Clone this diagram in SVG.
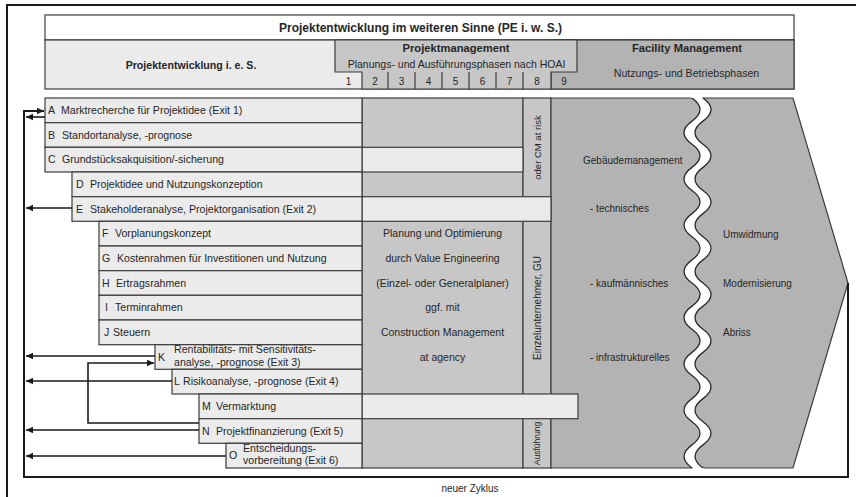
<svg xmlns="http://www.w3.org/2000/svg" width="856" height="497" viewBox="0 0 856 497">
<style>
text{font-family:"Liberation Sans",Arial,sans-serif;font-size:10.6px;fill:#262626}
.b{font-weight:bold}
.m{text-anchor:middle}
.h{font-size:11.2px}
.s{font-size:10.5px}
.f{font-size:10px}
.lt{fill:#ebebeb;stroke:#3c3c3c;stroke-width:1.2}
.pm{fill:#c7c7c7;stroke:#3c3c3c;stroke-width:1.2}
.fm{fill:#b3b3b3;stroke:#3c3c3c;stroke-width:1.2}
.ln{fill:none;stroke:#3c3c3c;stroke-width:1.2}
.ar{fill:none;stroke:#1a1a1a;stroke-width:1.6;marker-end:url(#ah)}
.loop{fill:none;stroke:#1a1a1a;stroke-width:2;marker-end:url(#ah)}
</style>
<defs>
<marker id="ah" markerWidth="8" markerHeight="8" refX="7" refY="4" orient="auto" markerUnits="userSpaceOnUse"><path d="M0,0.8 L7,4 L0,7.2 Z" fill="#1a1a1a"/></marker>
<clipPath id="cw"><rect x="600" y="97" width="200" height="372"/></clipPath>
<clipPath id="cl"><rect x="600" y="98" width="200" height="370"/></clipPath>
<path id="wave" d="M692,74.88 Q676,86.44 692,98 T692,121.13 T692,144.25 T692,167.38 T692,190.5 T692,213.63 T692,236.75 T692,259.88 T692,283 T692,306.13 T692,329.25 T692,352.38 T692,375.5 T692,398.63 T692,421.75 T692,444.88 T692,468 T692,491.13"/>
</defs>
<rect width="856" height="497" fill="#ffffff"/>
<path d="M7,497 V5 H856" fill="none" stroke="#1a1a1a" stroke-width="2"/>

<g id="header">
<rect x="45" y="15" width="749" height="25" fill="#ffffff" stroke="#3c3c3c" stroke-width="1.2"/>
<text class="b m" x="420.5" y="32" style="font-size:12px">Projektentwicklung im weiteren Sinne (PE i. w. S.)</text>
<rect x="45" y="40" width="749" height="49" fill="#ebebeb" stroke="#3c3c3c" stroke-width="1.2"/>
<rect x="551" y="40" width="243" height="49" class="fm"/>
<path d="M335,40 H577 V72 H551 V89 H362 V72 H335 Z" class="pm"/>
<path d="M388,72 V89 M415,72 V89 M442,72 V89 M469,72 V89 M496,72 V89 M523,72 V89" class="ln"/>
<text class="b m" x="191" y="69">Projektentwicklung i. e. S.</text>
<text class="b m h" x="456" y="52">Projektmanagement</text>
<text class="m s" x="456.5" y="68">Planungs- und Ausführungsphasen nach HOAI</text>
<text class="b m h" x="687" y="52">Facility Management</text>
<text class="m" x="686.5" y="77">Nutzungs- und Betriebsphasen</text>
<text class="m f" x="348.5" y="84.5">1</text>
<text class="m f" x="375" y="84.5">2</text>
<text class="m f" x="401.5" y="84.5">3</text>
<text class="m f" x="428.5" y="84.5">4</text>
<text class="m f" x="455.5" y="84.5">5</text>
<text class="m f" x="482.5" y="84.5">6</text>
<text class="m f" x="509.5" y="84.5">7</text>
<text class="m f" x="537" y="84.5">8</text>
<text class="m f" x="564" y="84.5">9</text>
</g>

<g id="pm-area">
<rect x="362" y="98" width="161" height="370" class="pm"/>
<rect x="523" y="98" width="28" height="370" class="pm"/>
</g>

<g id="fm-area">
<path d="M551,98 H793 L848,283 L793,468 H551 Z" class="fm"/>
<path clip-path="url(#cw)" fill="#ffffff" d="M692,74.88 Q676,86.44 692,98 T692,121.13 T692,144.25 T692,167.38 T692,190.5 T692,213.63 T692,236.75 T692,259.88 T692,283 T692,306.13 T692,329.25 T692,352.38 T692,375.5 T692,398.63 T692,421.75 T692,444.88 T692,468 T692,491.13 L703,491.13 Q719,479.56 703,468 Q687,456.44 703,444.88 Q719,433.31 703,421.75 Q687,410.19 703,398.63 Q719,387.06 703,375.5 Q687,363.94 703,352.38 Q719,340.81 703,329.25 Q687,317.69 703,306.13 Q719,294.56 703,283 Q687,271.44 703,259.88 Q719,248.31 703,236.75 Q687,225.19 703,213.63 Q719,202.06 703,190.5 Q687,178.94 703,167.38 Q719,155.81 703,144.25 Q687,132.69 703,121.13 Q719,109.56 703,98 Q687,86.44 703,74.88 Z"/>
<g clip-path="url(#cl)">
<use href="#wave" fill="none" stroke="#2a2a2a" stroke-width="1.3"/>
<use href="#wave" transform="translate(11,0)" fill="none" stroke="#2a2a2a" stroke-width="1.3"/>
</g>
<text class="f" x="583" y="163.5">Gebäudemanagement</text>
<text class="f" x="590" y="212">- technisches</text>
<text class="f" x="590" y="286.5">- kaufmännisches</text>
<text class="f" x="590" y="360.5">- infrastrukturelles</text>
<text class="f" x="723" y="237.5">Umwidmung</text>
<text class="f" x="723" y="286.5">Modernisierung</text>
<text class="f" x="723" y="335.5">Abriss</text>
</g>

<g id="bands">
<rect x="362" y="147.3" width="161" height="24.7" class="lt"/>
<rect x="362" y="196.7" width="189" height="24.6" class="lt"/>
<rect x="362" y="394" width="216" height="24.7" class="lt"/>
</g>

<g id="pm-text">
<text class="m s" x="442.5" y="237">Planung und Optimierung</text>
<text class="m s" x="442.5" y="261.5">durch Value Engineering</text>
<text class="m s" x="442.5" y="286.5">(Einzel- oder Generalplaner)</text>
<text class="m s" x="442.5" y="311">ggf. mit</text>
<text class="m s" x="442.5" y="335.5">Construction Management</text>
<text class="m s" x="442.5" y="360.5">at agency</text>
<text class="m" transform="translate(540.5,147.5) rotate(-90)" style="font-size:9.5px">oder CM at risk</text>
<text class="m f" transform="translate(540.5,308) rotate(-90)">Einzelunternehmer, GU</text>
<text class="m" transform="translate(540,443.5) rotate(-90)" style="font-size:8.5px">Ausführung</text>
</g>

<g id="row-A"><rect x="45" y="98" width="317" height="24.7" class="lt"/><text x="48" y="114">A</text><text x="61" y="114">Marktrecherche für Projektidee (Exit 1)</text></g>
<g id="row-B"><rect x="45" y="122.7" width="317" height="24.6" class="lt"/><text x="48" y="138.7">B</text><text x="62" y="138.7">Standortanalyse, -prognose</text></g>
<g id="row-C"><rect x="45" y="147.3" width="317" height="24.7" class="lt"/><text x="48" y="163.4">C</text><text x="62" y="163.4">Grundstücksakquisition/-sicherung</text></g>
<g id="row-D"><rect x="72" y="172" width="290" height="24.7" class="lt"/><text x="76" y="188">D</text><text x="90" y="188">Projektidee und Nutzungskonzeption</text></g>
<g id="row-E"><rect x="72" y="196.7" width="290" height="24.6" class="lt"/><text x="76" y="212.7">E</text><text x="90" y="212.7">Stakeholderanalyse, Projektorganisation (Exit 2)</text></g>
<g id="row-F"><rect x="99" y="221.3" width="263" height="24.7" class="lt"/><text x="102" y="237.4">F</text><text x="115" y="237.4">Vorplanungskonzept</text></g>
<g id="row-G"><rect x="99" y="246" width="263" height="24.7" class="lt"/><text x="102" y="262">G</text><text x="117" y="262">Kostenrahmen für Investitionen und Nutzung</text></g>
<g id="row-H"><rect x="99" y="270.7" width="263" height="24.6" class="lt"/><text x="102" y="286.7">H</text><text x="116" y="286.7">Ertragsrahmen</text></g>
<g id="row-I"><rect x="99" y="295.3" width="263" height="24.7" class="lt"/><text x="105" y="311.4">I</text><text x="115" y="311.4">Terminrahmen</text></g>
<g id="row-J"><rect x="99" y="320" width="263" height="24.7" class="lt"/><text x="104" y="336">J</text><text x="113" y="336">Steuern</text></g>
<g id="row-K"><rect x="155" y="344.7" width="207" height="24.6" class="lt"/><text x="158" y="360.7">K</text><text x="174" y="353">Rentabilitäts- mit Sensitivitäts-</text><text x="174" y="365.7">analyse, -prognose (Exit 3)</text></g>
<g id="row-L"><rect x="172" y="369.3" width="190" height="24.7" class="lt"/><text x="174" y="385.4">L</text><text x="183" y="385.4">Risikoanalyse, -prognose (Exit 4)</text></g>
<g id="row-M"><rect x="199" y="394" width="163" height="24.7" class="lt"/><text x="202" y="410">M</text><text x="216" y="410">Vermarktung</text></g>
<g id="row-N"><rect x="199" y="418.7" width="163" height="24.6" class="lt"/><text x="202" y="434.7">N</text><text x="216" y="434.7">Projektfinanzierung (Exit 5)</text></g>
<g id="row-O"><rect x="226" y="443.3" width="136" height="24.7" class="lt"/><text x="229" y="459.3">O</text><text x="243" y="452">Entscheidungs-</text><text x="243" y="464.2">vorbereitung (Exit 6)</text></g>

<g id="connectors">
<path class="loop" d="M848,283 V477 H24 V111 H44"/>
<path class="ar" d="M45,117 H26"/>
<path class="ar" d="M72,208 H26"/>
<path class="ar" d="M155,356 H26"/>
<path class="ar" d="M172,381 H26"/>
<path class="ar" d="M199,430 H26"/>
<path class="ar" d="M226,456 H26"/>
<path class="ar" d="M199,423 H88 V363 H154"/>
</g>
<text class="m f" x="470" y="491.5">neuer Zyklus</text>
</svg>
